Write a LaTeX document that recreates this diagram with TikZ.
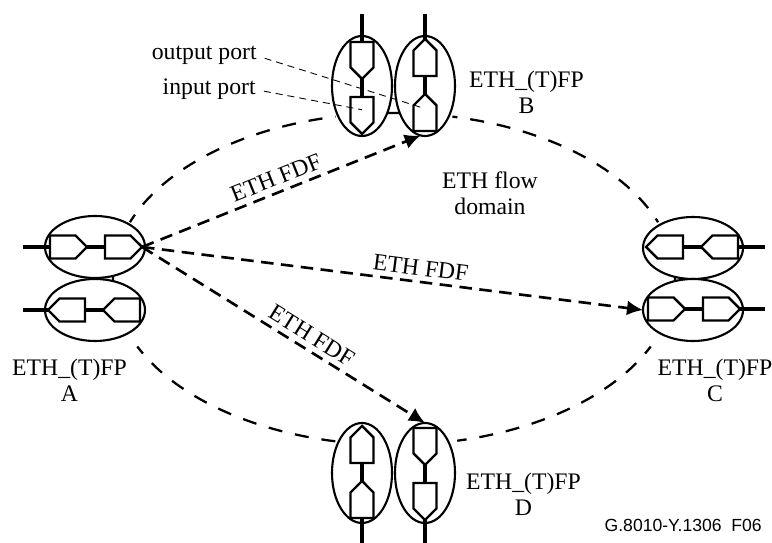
\documentclass[tikz,border=0pt]{standalone}
\usepackage{fontspec}
\setmainfont{Liberation Serif}
\newfontfamily\footfont{Liberation Sans}
\usetikzlibrary{shapes.geometric,shapes.symbols,arrows.meta}
\tikzset{
	group/.style={draw, fill=white, ellipse, inner sep=0, outer sep=0, line width=1.2pt},
	hgroup/.style={group, minimum width=2cm, minimum height=1.24cm},
	vgroup/.style={group, minimum width=1.2cm, minimum height=2cm},
	port/.style={draw, signal, inner sep=0, outer sep=0, line width=1.4pt},
	hport/.style={port, minimum width=.74cm, minimum height=.46cm},
	vport/.style={port, minimum width=.46cm, minimum height=.51cm},
	lead/.style={line width=1.8pt},
	leadthick/.style={line width=2.6pt},
	ring/.style={line width=1.3pt, dash pattern=on .28cm off .26cm},
	flow/.style={line width=1.5pt, dash pattern=on .25cm off .15cm, -{Latex[length=.32cm,width=.3cm]}},
	pointer/.style={line width=.5pt, dash pattern=on .14cm off .1cm, shorten <=.16cm},
	txt/.style={font=\fontsize{13.5}{14.8}\selectfont, inner sep=0, align=center}
}
\begin{document}
\begin{tikzpicture}
	\useasboundingbox (0,0) rectangle (15.44,10.86);
	
	% flow domain boundary
	\foreach \s/\e/\p in {160/102/.1, 78/20/.18, -24/-77/.1, -156/-102/.1}
		\draw[ring, dash phase=\p cm] (7.88,5.28) ++(\s:5.62cm and 3.32cm) arc[x radius=5.62cm, y radius=3.32cm, start angle=\s, end angle=\e];
	\foreach \a in {0,90,180}
		\draw[line width=1.3pt] (7.88,5.28) ++(\a-3:5.62cm and 3.32cm) arc[x radius=5.62cm, y radius=3.32cm, start angle=\a-3, end angle=\a+3];
	
	\node[hgroup] (Atop) at (1.9,5.92) {};
	\node[hgroup] (Abot) at (1.9,4.66) {};
	\node[hgroup] (Ctop) at (13.86,5.9) {};
	\node[hgroup] (Cbot) at (13.86,4.66) {};
	\node[vgroup] (Bleft) at (7.24,9.14) {};
	\node[vgroup] (Bright) at (8.5,9.14) {};
	\node[vgroup] (Dleft) at (7.24,1.4) {};
	\node[vgroup] (Dright) at (8.5,1.4) {};
	
	\node[hport, signal to=east, anchor=west] (a1) at (1,5.92) {};
	\node[hport, signal to=east, anchor=west] (a2) at (2.1,5.92) {};
	\node[hport, signal to=west, anchor=east] (a3) at (1.7,4.66) {};
	\node[hport, signal to=west, anchor=east] (a4) at (2.8,4.66) {};
	\node[hport, signal to=west, anchor=east] (c1) at (13.66,5.92) {};
	\node[hport, signal to=west, anchor=east] (c2) at (14.76,5.92) {};
	\node[hport, signal to=east, anchor=west] (c3) at (12.96,4.68) {};
	\node[hport, signal to=east, anchor=west] (c4) at (14.06,4.68) {};
	\node[vport, signal to=south, anchor=north] (b1) at (7.24,10.02) {};
	\node[vport, signal to=south, anchor=north] (b2) at (7.24,8.92) {};
	\node[vport, signal to=north, anchor=south] (b3) at (8.5,9.34) {};
	\node[vport, signal to=north, anchor=south] (b4) at (8.5,8.24) {};
	\node[vport, signal to=north, anchor=south] (d1) at (7.24,1.6) {};
	\node[vport, signal to=north, anchor=south] (d2) at (7.24,.5) {};
	\node[vport, signal to=south, anchor=north] (d3) at (8.5,2.3) {};
	\node[vport, signal to=south, anchor=north] (d4) at (8.5,1.2) {};
	
	% free ends of the leads
	\coordinate (aend1) at (.46,5.92);
	\coordinate (aend2) at (.46,4.66);
	\coordinate (cend1) at (15.3,5.92);
	\coordinate (cend2) at (15.3,4.68);
	\coordinate (bend1) at (7.24,10.58);
	\coordinate (bend2) at (8.5,10.58);
	\coordinate (dend1) at (7.24,0);
	\coordinate (dend2) at (8.5,0);
	\coordinate (outend) at (8.46,8.7);
	
	\foreach \from/\to in {aend1/a1.west, aend2/a3.west, a1.east/a2.west, a3.east/a4.west, c1.east/c2.west, c3.east/c4.west, c2.east/cend1, c4.east/cend2, b3.north/bend2, b3.south/b4.north, d3.south/d4.north, d4.south/dend2}
		\draw[lead] (\from) -- (\to);
	\foreach \from/\to in {b1.north/bend1, b1.south/b2.north, d1.south/d2.north, d2.south/dend1}
		\draw[leadthick] (\from) -- (\to);
	
	\draw[flow] (a2.east) -- node[txt, sloped, above=.11cm, pos=.5] (fdfb) {ETH FDF} (Bright.265);
	\draw[flow] (a2.east) -- node[txt, sloped, above=.1cm, pos=.553] (fdfc) {ETH FDF} (Cbot.west);
	\draw[flow] (a2.east) -- node[txt, sloped, above=.11cm, pos=.574] (fdfd) {ETH FDF} (Dright.north);
	
	\node[txt, anchor=base east] (outport) at (5.14,9.66) {output port};
	\node[txt, anchor=base east] (inport) at (5.12,8.96) {input port};
	\draw[pointer] (outport.east) -- (outend);
	\draw[pointer] (inport.east) -- (b2.center);
	
	\node[txt] (fpa) at (1.39,3.26) {ETH\_(T)FP\\A};
	\node[txt] (fpb) at (10.53,9.02) {ETH\_(T)FP\\B};
	\node[txt] (fpc) at (14.3,3.26) {ETH\_(T)FP\\C};
	\node[txt] (fpd) at (10.47,.98) {ETH\_(T)FP\\D};
	\node[txt] (domain) at (9.8,7) {ETH flow\\domain};
	\node[anchor=base east, inner sep=0, font=\footfont\fontsize{10}{12}\selectfont] (figno) at (15.24,.22) {G.8010-Y.1306\ \ F06};
\end{tikzpicture}
\end{document}
